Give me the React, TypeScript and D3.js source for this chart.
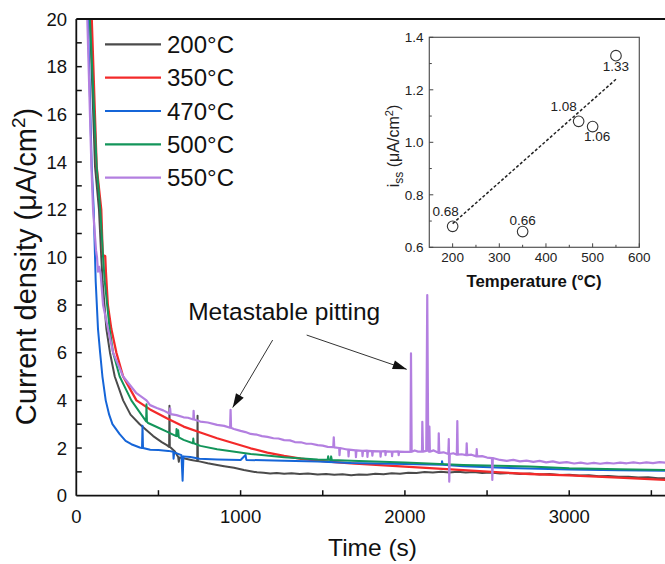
import React from 'react';
import * as d3 from 'd3';

const W = 665;
const H = 564;
const FONT = "'Liberation Sans', Arial, Helvetica, sans-serif";

// Legend entries and line colours, in drawing-key order
const legendLabels = ['200°C', '350°C', '470°C', '500°C', '550°C'];
const seriesColors = ['#4b4b4b', '#f32a2a', '#1565d8', '#13955a', '#b37fe0'];

// Current transients: [time (s), current density (µA/cm²)]
const curve200: [number, number][] = [
  [40, 30], [83, 20], [114, 13.8], [138, 12], [152, 10], [160, 9], [183, 7], [205, 6],
  [234, 5], [285, 4], [330, 3.4], [386, 3], [468, 2.5], [520, 2.25], [551, 2.12],
  [565, 2.05], [567, 3.77], [569, 2.05], [600, 1.85], [620, 1.62], [624, 1.42], [628, 1.6],
  [653, 1.57], [700, 1.5], [736, 1.45], [738, 3.35], [740, 1.45], [755, 1.43], [800, 1.36],
  [857, 1.29], [900, 1.24], [960, 1.17], [1020, 1.08], [1061, 1.03], [1100, 0.98],
  [1140, 0.96], [1180, 0.93], [1220, 0.95], [1265, 0.92], [1310, 0.94], [1360, 0.91],
  [1410, 0.93], [1469, 0.89], [1520, 0.91], [1570, 0.88], [1620, 0.9], [1673, 0.86],
  [1720, 0.89], [1770, 0.88], [1820, 0.92], [1870, 0.9], [1920, 0.94], [1970, 0.92],
  [2020, 0.96], [2070, 0.95], [2120, 0.99], [2170, 0.97], [2220, 1.0], [2270, 0.97],
  [2320, 1.0], [2370, 0.97], [2420, 0.99], [2470, 0.95], [2520, 0.97], [2580, 0.93],
  [2640, 0.95], [2700, 0.91], [2760, 0.93], [2820, 0.89], [2880, 0.91], [2940, 0.87],
  [3000, 0.88], [3060, 0.85], [3120, 0.86], [3180, 0.82], [3240, 0.83], [3300, 0.79],
  [3360, 0.8], [3420, 0.76], [3480, 0.77], [3540, 0.73], [3600, 0.74],
];

const curve350: [number, number][] = [
  [40, 30], [94, 20], [124, 13.8], [152, 12], [161, 10.1], [176, 10.05], [180, 9.4],
  [192, 8], [213, 7], [244, 6], [285, 5], [366, 4], [449, 3.62], [551, 3.25], [653, 2.9],
  [755, 2.65], [857, 2.41], [959, 2.2], [1061, 1.99], [1163, 1.81], [1265, 1.67],
  [1367, 1.55], [1469, 1.47], [1571, 1.41], [1673, 1.36], [2000, 1.22], [2355, 1.07],
  [2579, 0.98], [2761, 0.91], [3000, 0.85], [3300, 0.76], [3600, 0.66],
];

const curve470: [number, number][] = [
  [40, 30], [71, 20], [94, 13.8], [106, 12], [114, 10], [118, 9], [132, 7], [145, 6],
  [159, 5], [179, 4], [200, 3.4], [220, 3], [264, 2.58], [300, 2.3], [335, 2.16],
  [386, 2.02], [400, 2.0], [403, 2.93], [406, 2.0], [450, 1.93], [500, 1.92], [560, 1.88],
  [590, 1.84], [592, 1.55], [596, 1.82], [640, 1.7], [647, 0.63], [652, 1.65], [694, 1.62],
  [750, 1.55], [857, 1.52], [1000, 1.5], [1030, 1.71], [1035, 1.5], [1265, 1.47],
  [1469, 1.43], [1673, 1.37], [2000, 1.33], [2224, 1.3], [2226, 1.45], [2230, 1.3],
  [2355, 1.24], [2600, 1.17], [3000, 1.1], [3300, 1.07], [3600, 1.05],
];

const curve500: [number, number][] = [
  [40, 30], [83, 20], [124, 13.8], [146, 12], [163, 10], [173, 9], [203, 7], [224, 6],
  [264, 5], [335, 4], [425, 3.12], [427, 3.84], [430, 3.1], [437, 3.05], [500, 2.85],
  [551, 2.69], [608, 2.5], [610, 2.8], [614, 2.5], [620, 2.75], [624, 2.45], [653, 2.34],
  [710, 2.2], [712, 2.4], [715, 2.2], [755, 2.09], [857, 1.95], [1061, 1.75], [1265, 1.61],
  [1469, 1.52], [1530, 1.51], [1533, 1.66], [1537, 1.51], [1548, 1.5], [1551, 1.65],
  [1555, 1.5], [1673, 1.47], [2000, 1.39], [2355, 1.29], [2761, 1.22], [3000, 1.15],
  [3300, 1.11], [3600, 1.08],
];

const curve550: [number, number][] = [
  [30, 30], [67, 20], [92, 13.8], [102, 12], [120, 10.3], [126, 10], [132, 9.4],
  [140, 9.6], [148, 9.3], [163, 8], [193, 7], [224, 6], [285, 5], [366, 4.3], [427, 4.0],
  [449, 3.8], [490, 3.68], [529, 3.58], [569, 3.44], [571, 3.66], [574, 3.42], [610, 3.38],
  [653, 3.29], [680, 3.27], [712, 3.2], [714, 3.56], [717, 3.2], [755, 3.11], [800, 3.07],
  [857, 2.97], [900, 2.93], [936, 2.85], [939, 3.6], [942, 2.85], [959, 2.8], [1000, 2.72],
  [1030, 2.67], [1061, 2.59], [1100, 2.56], [1130, 2.5], [1163, 2.47], [1200, 2.41],
  [1230, 2.4], [1265, 2.33], [1300, 2.32], [1330, 2.25], [1367, 2.24], [1400, 2.18],
  [1430, 2.18], [1469, 2.12], [1500, 2.1], [1530, 2.05], [1564, 2.04], [1567, 2.45],
  [1570, 2.03], [1600, 2.0], [1602, 1.7], [1605, 2.0], [1640, 1.95], [1655, 1.93],
  [1657, 1.65], [1660, 1.93], [1700, 1.9], [1702, 1.62], [1705, 1.9], [1740, 1.88],
  [1742, 1.66], [1745, 1.88], [1770, 1.89], [1772, 1.63], [1775, 1.88], [1800, 1.87],
  [1802, 1.68], [1805, 1.87], [1850, 1.86], [1852, 1.64], [1855, 1.86], [1880, 1.87],
  [1882, 1.7], [1885, 1.86], [1920, 1.85], [1922, 1.66], [1925, 1.85], [1960, 1.86],
  [1962, 1.7], [1965, 1.85], [2000, 1.84], [2034, 1.84], [2037, 5.97], [2041, 1.84],
  [2060, 1.9], [2080, 1.85], [2104, 1.85], [2106, 3.1], [2110, 1.85], [2130, 1.88],
  [2136, 8.42], [2142, 1.88], [2147, 1.85], [2149, 2.9], [2152, 1.85], [2175, 1.9],
  [2204, 1.8], [2206, 2.62], [2209, 1.8], [2235, 1.82], [2264, 1.75], [2267, 2.37],
  [2270, 0.59], [2273, 1.75], [2295, 1.78], [2316, 1.72], [2319, 3.13], [2322, 1.72],
  [2345, 1.74], [2374, 1.7], [2376, 2.2], [2379, 1.7], [2405, 1.72], [2435, 1.65],
  [2437, 1.95], [2440, 1.65], [2470, 1.66], [2500, 1.6], [2530, 1.58], [2532, 0.66],
  [2535, 1.58], [2579, 1.5], [2620, 1.46], [2660, 1.5], [2700, 1.44], [2740, 1.47],
  [2782, 1.42], [2820, 1.46], [2860, 1.4], [2900, 1.44], [2940, 1.38], [2985, 1.41],
  [3030, 1.35], [3070, 1.39], [3110, 1.34], [3150, 1.38], [3188, 1.34], [3230, 1.38],
  [3270, 1.35], [3310, 1.39], [3350, 1.36], [3391, 1.4], [3430, 1.36], [3470, 1.4],
  [3510, 1.37], [3550, 1.41], [3600, 1.38],
];

// Drawn back to front
const drawOrder = [0, 1, 2, 3, 4];
const curves = [curve200, curve350, curve470, curve500, curve550];

const xMajorTicks = [0, 1000, 2000, 3000];
const xAllTicks = [500, 1000, 1500, 2000, 2500, 3000, 3500];
const yMajorTicks = [0, 2, 4, 6, 8, 10, 12, 14, 16, 18, 20];
const yAllTicks = d3.range(1, 20);

// Inset: steady-state current vs. aging temperature
const insetTemps = [200, 350, 470, 500, 550];
const insetIss = [0.68, 0.66, 1.08, 1.06, 1.33];
const insetLabels = ['0.68', '0.66', '1.08', '1.06', '1.33'];
const insetLabelOffsets: [number, number][] = [[-7, -10], [0, -6.5], [-15, -10], [4.5, 14.5], [0, 15.5]];
const fitTemps = [200, 550];
const fitIss = [0.69, 1.24];
const insetXTicks = [200, 300, 400, 500, 600];
const insetXMinor = [250, 350, 450, 550];
const insetYTicks = [0.6, 0.8, 1.0, 1.2, 1.4];
const insetYMinor = [0.7, 0.9, 1.1, 1.3];

// Annotation: label position and arrows (tail -> tip) in data units
const noteText = 'Metastable pitting';
const notePos: [number, number] = [681, 7.37];
const noteArrows: [number, number, number, number][] = [
  [1195, 6.53, 952, 3.7],
  [1402, 6.74, 2011, 5.3],
];

export default function App() {
  const x = d3.scaleLinear().domain([0, 3600]).range([76.3, 667.8]);
  const y = d3.scaleLinear().domain([0, 20]).range([495.7, 19]);
  const line = d3
    .line<[number, number]>()
    .x((d) => x(d[0]))
    .y((d) => y(d[1]));

  const ix = d3.scaleLinear().domain([150, 600]).range([429.3, 639.3]);
  const iy = d3.scaleLinear().domain([0.6, 1.4]).range([247.3, 37.3]);

  const left = x(0);
  const bottom = y(0);
  const top = y(20);

  const arrowHead = (x1: number, y1: number, x2: number, y2: number) => {
    const ang = Math.atan2(y2 - y1, x2 - x1);
    const len = 14;
    const half = 4.5;
    const bx = x2 - len * Math.cos(ang);
    const by = y2 - len * Math.sin(ang);
    const px = -Math.sin(ang) * half;
    const py = Math.cos(ang) * half;
    return `M${x2},${y2}L${bx + px},${by + py}L${bx - px},${by - py}Z`;
  };

  return (
    <svg
      width={W}
      height={H}
      viewBox={`0 0 ${W} ${H}`}
      style={{ position: 'absolute', left: 0, top: 0, background: '#fff', fontFamily: FONT }}
    >
      <defs>
        <clipPath id="plotClip">
          <rect x={left} y={top} width={W - left} height={bottom - top} />
        </clipPath>
      </defs>
      <rect x={0} y={0} width={W} height={H} fill="#fff" />

      {/* Transients */}
      <g clipPath="url(#plotClip)" fill="none" strokeLinejoin="round">
        {drawOrder.map((k) => (
          <path
            key={k}
            d={line(curves[k]) || ''}
            stroke={seriesColors[k]}
            strokeWidth={k === 1 ? 2.3 : k === 4 ? 2.2 : 2}
          />
        ))}
      </g>

      {/* Axes frame */}
      <g stroke="#111" strokeWidth={1.8} fill="none">
        <line x1={left} y1={top} x2={W} y2={top} />
        <line x1={left} y1={top} x2={left} y2={bottom} />
        <line x1={left} y1={bottom} x2={W} y2={bottom} />
      </g>

      {/* X ticks */}
      <g stroke="#111" strokeWidth={1.5}>
        {xAllTicks.map((t) => (
          <line key={t} x1={x(t)} x2={x(t)} y1={bottom} y2={bottom - 5.5} />
        ))}
      </g>
      <g fontSize={18.5} fill="#111" textAnchor="middle">
        {xMajorTicks.map((t) => (
          <text key={t} x={x(t)} y={522.5}>
            {t}
          </text>
        ))}
      </g>
      <text x={(x(0) + x(3600)) / 2 + 0.5} y={556} fontSize={24.5} textAnchor="middle" fill="#111">
        Time (s)
      </text>

      {/* Y ticks */}
      <g stroke="#111" strokeWidth={1.5}>
        {yAllTicks.map((v) => (
          <line key={v} x1={left} x2={left + 5.5} y1={y(v)} y2={y(v)} />
        ))}
      </g>
      <g fontSize={18.5} fill="#111" textAnchor="end">
        {yMajorTicks.map((v) => (
          <text key={v} x={67} y={y(v) + 6.5}>
            {v}
          </text>
        ))}
      </g>
      <text transform="translate(36,266.5) rotate(-90)" fontSize={29} textAnchor="middle" fill="#111">
        Current density (μA/cm
        <tspan dy={-11} fontSize={19}>
          2
        </tspan>
        <tspan dy={11}>)</tspan>
      </text>

      {/* Legend */}
      {legendLabels.map((lab, k) => {
        const ly = 44.3 + k * 33.35;
        return (
          <g key={lab}>
            <line x1={105} x2={161} y1={ly} y2={ly} stroke={seriesColors[k]} strokeWidth={2.2} />
            <text x={167} y={ly + 8.6} fontSize={24} fill="#111">
              {lab}
            </text>
          </g>
        );
      })}

      {/* Annotation */}
      <text x={x(notePos[0])} y={y(notePos[1])} fontSize={24.5} fill="#111">
        {noteText}
      </text>
      {noteArrows.map(([t1, v1, t2, v2], k) => {
        const x1 = x(t1);
        const y1 = y(v1);
        const x2 = x(t2);
        const y2 = y(v2);
        return (
          <g key={k}>
            <line x1={x1} y1={y1} x2={x2} y2={y2} stroke="#333" strokeWidth={1} />
            <path d={arrowHead(x1, y1, x2, y2)} fill="#111" />
          </g>
        );
      })}

      {/* Inset */}
      <g>
        <rect x={ix(150)} y={iy(1.4)} width={ix(600) - ix(150)} height={iy(0.6) - iy(1.4)} fill="#fff" stroke="#555" strokeWidth={1.2} />
        <g stroke="#444" strokeWidth={1}>
          {insetXTicks.map((t) => (
            <line key={t} x1={ix(t)} x2={ix(t)} y1={iy(0.6)} y2={iy(0.6) - 4} />
          ))}
          {insetXMinor.map((t) => (
            <line key={t} x1={ix(t)} x2={ix(t)} y1={iy(0.6)} y2={iy(0.6) - 2.5} />
          ))}
          {insetYTicks.map((v) => (
            <line key={v} x1={ix(150)} x2={ix(150) + 4} y1={iy(v)} y2={iy(v)} />
          ))}
          {insetYMinor.map((v) => (
            <line key={v} x1={ix(150)} x2={ix(150) + 2.5} y1={iy(v)} y2={iy(v)} />
          ))}
        </g>
        <g fontSize={13.5} fill="#222" textAnchor="middle">
          {insetXTicks.map((t) => (
            <text key={t} x={ix(t)} y={262}>
              {t}
            </text>
          ))}
        </g>
        <g fontSize={13.5} fill="#222" textAnchor="end">
          {insetYTicks.map((v) => (
            <text key={v} x={423.5} y={iy(v) + 5}>
              {v.toFixed(1)}
            </text>
          ))}
        </g>
        <text x={534} y={287} fontSize={16.8} fontWeight="bold" textAnchor="middle" fill="#111">
          Temperature (°C)
        </text>
        <text transform="translate(399,146) rotate(-90)" fontSize={16} textAnchor="middle" fill="#222">
          i
          <tspan dy={4} fontSize={12}>
            ss
          </tspan>
          <tspan dy={-4}> (μA/cm</tspan>
          <tspan dy={-6} fontSize={11}>
            2
          </tspan>
          <tspan dy={6}>)</tspan>
        </text>
        <line
          x1={ix(fitTemps[0])}
          y1={iy(fitIss[0])}
          x2={ix(fitTemps[1])}
          y2={iy(fitIss[1])}
          stroke="#222"
          strokeWidth={1.5}
          strokeDasharray="3,2"
        />
        {insetTemps.map((t, k) => (
          <g key={t}>
            <circle cx={ix(t)} cy={iy(insetIss[k])} r={5.3} fill="none" stroke="#333" strokeWidth={1.1} />
            <text
              x={ix(t) + insetLabelOffsets[k][0]}
              y={iy(insetIss[k]) + insetLabelOffsets[k][1]}
              fontSize={13.5}
              textAnchor="middle"
              fill="#222"
            >
              {insetLabels[k]}
            </text>
          </g>
        ))}
      </g>
    </svg>
  );
}
